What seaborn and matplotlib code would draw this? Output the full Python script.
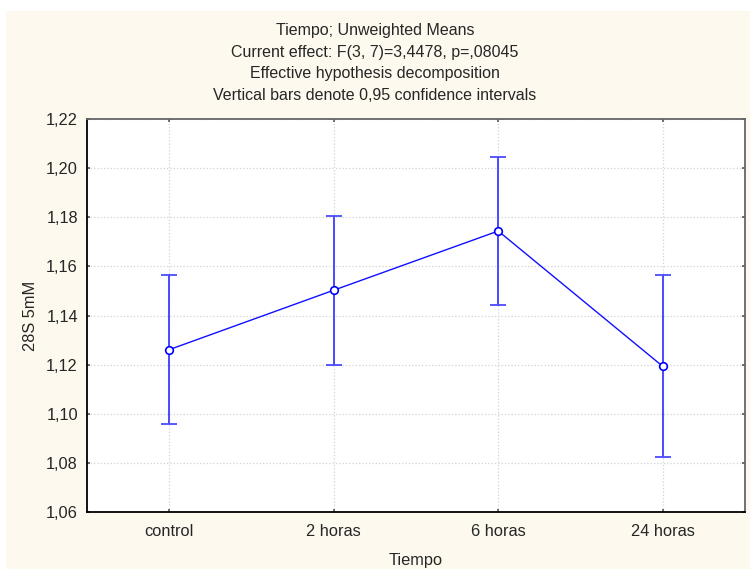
import matplotlib
matplotlib.use("Agg")
import matplotlib.pyplot as plt
import seaborn as sns
import pandas as pd
from matplotlib.patches import Rectangle

categories = ["control", "2 horas", "6 horas", "24 horas"]
means = [1.1261, 1.1503, 1.1744, 1.1193]
ci_low = [1.0958, 1.1200, 1.1442, 1.0823]
ci_high = [1.1563, 1.1805, 1.2046, 1.1564]
yticks = [1.06, 1.08, 1.10, 1.12, 1.14, 1.16, 1.18, 1.20, 1.22]
ytick_labels = ["1,06", "1,08", "1,10", "1,12", "1,14", "1,16", "1,18", "1,20", "1,22"]
title_lines = ["Tiempo; Unweighted Means",
               "Current effect: F(3, 7)=3,4478, p=,08045",
               "Effective hypothesis decomposition",
               "Vertical bars denote 0,95 confidence intervals"]

sns.set_style("white")
plt.rcParams['font.family'] = ['Liberation Sans', 'DejaVu Sans']

FS_TITLE = 11.5
FS = 11.8

df = pd.DataFrame({"Tiempo": categories, "mean": means})

fig = plt.figure(figsize=(7.5, 5.69), dpi=100, facecolor="white")
fig.patches.append(Rectangle((6/750, 0), 1, (569-11)/569, transform=fig.transFigure,
                             facecolor="#FDF9EE", edgecolor="none", zorder=-10))
ax = fig.add_axes([87/750, (569-512)/569, (745-87)/750, (512-119)/569])
ax.set_facecolor("white")

yerr = [[m - l for m, l in zip(means, ci_low)], [h - m for m, h in zip(means, ci_high)]]
ax.errorbar(categories, means, yerr=yerr, fmt="none", ecolor="#4a4aff",
            elinewidth=1.4, capsize=5.8, capthick=1.3, zorder=2)
sns.pointplot(data=df, x="Tiempo", y="mean", errorbar=None, color="#1010ff",
              markers="o", linestyles="-", ax=ax, linewidth=1.0,
              markersize=5.5, markerfacecolor="white", markeredgecolor="#0000ff",
              markeredgewidth=1.2, zorder=3)

ax.set_xlim(-0.5, 3.5)
ax.set_ylim(1.06, 1.22)
ax.set_yticks(yticks)
ax.set_yticklabels(ytick_labels, fontsize=FS)
ax.set_xticks(range(len(categories)))
ax.set_xticklabels(categories, fontsize=FS)
ax.grid(True, linestyle=":", color="#D2D2D2", linewidth=0.9)
ax.set_axisbelow(True)

ax.tick_params(axis="y", left=True, right=True, labelright=False, direction="in",
               length=2.5, width=1.2, color="#555555", pad=6.5)
ax.tick_params(axis="x", bottom=True, top=True, direction="in", length=2.5,
               width=1.2, color="#555555", pad=8.5)

for side in ["left", "bottom"]:
    ax.spines[side].set_color("black")
    ax.spines[side].set_linewidth(1.3)
for side in ["top", "right"]:
    ax.spines[side].set_color("#666666")
    ax.spines[side].set_linewidth(1.3)

ax.set_xlabel("Tiempo", fontsize=FS, labelpad=10)
ax.set_ylabel("28S 5mM", fontsize=FS, labelpad=6)

for i, line in enumerate(title_lines):
    fig.text(0.5, 1 - (30 + i * 22) / 569, line, ha="center", va="center", fontsize=FS_TITLE)

fig.savefig("out.png", dpi=100, facecolor=fig.get_facecolor())
